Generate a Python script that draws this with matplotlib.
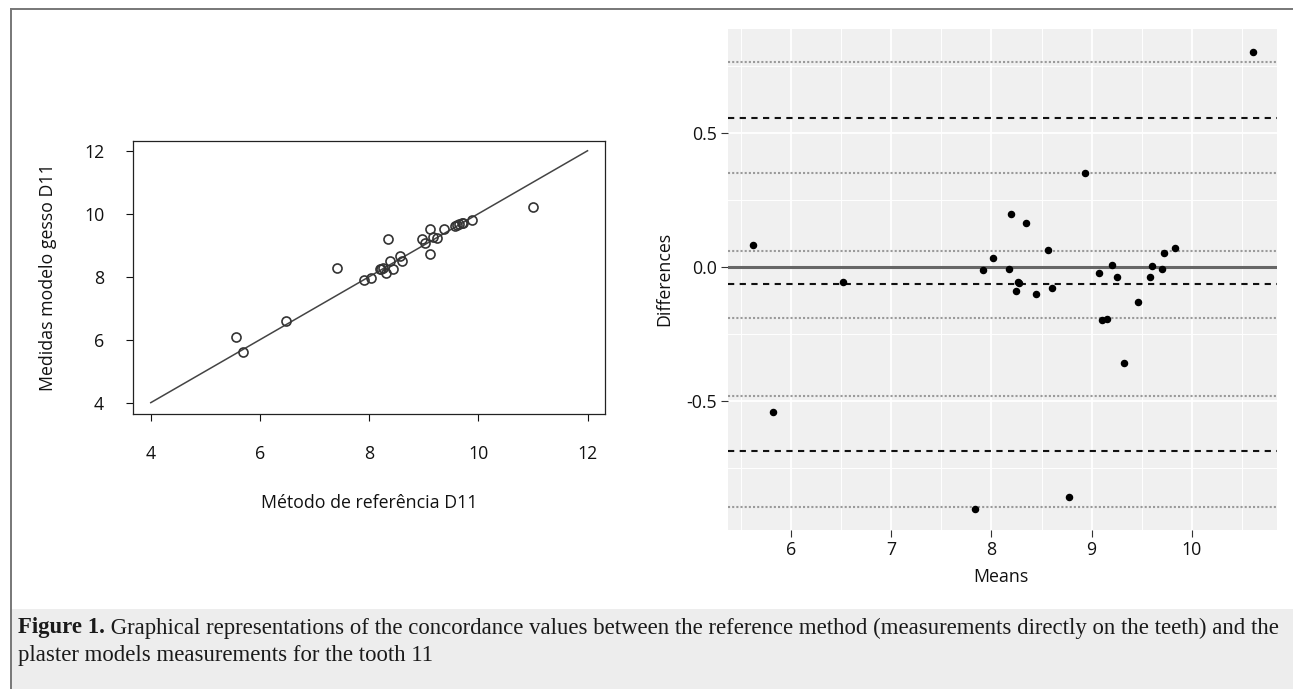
import matplotlib
import matplotlib.pyplot as plt
from matplotlib.lines import Line2D
from matplotlib.patches import Rectangle

# no GUI backend
matplotlib.use('Agg')

# left panel: reference method vs plaster model (tooth 11)
ref_d11 = [5.56, 5.69, 6.48, 7.41, 7.90, 8.04, 8.20, 8.22, 8.25, 8.30, 8.34, 8.38,
           8.43, 8.56, 8.61, 8.97, 9.03, 9.12, 9.12, 9.17, 9.25, 9.38, 9.57, 9.60,
           9.65, 9.70, 9.72, 9.88, 11.01]
gesso_d11 = [6.10, 5.60, 6.59, 8.29, 7.90, 7.97, 8.23, 8.26, 8.29, 8.11, 9.20, 8.51,
             8.23, 8.66, 8.51, 9.19, 9.08, 9.50, 8.72, 9.25, 9.22, 9.53, 9.62, 9.64,
             9.66, 9.71, 9.69, 9.80, 10.20]
identity_line = [4, 12]
left_ticks = [4, 6, 8, 10, 12]

# right panel: Bland-Altman means / differences
means = [5.618, 5.817, 6.516, 7.839, 7.913, 8.013, 8.179, 8.193, 8.245, 8.269,
         8.275, 8.342, 8.445, 8.568, 8.602, 8.771, 8.934, 9.077, 9.100, 9.150,
         9.207, 9.254, 9.326, 9.467, 9.583, 9.600, 9.706, 9.726, 9.836, 10.608]
diffs = [0.081, -0.543, -0.058, -0.904, -0.012, 0.031, -0.010, 0.197, -0.091, -0.058,
         -0.062, 0.162, -0.103, 0.062, -0.078, -0.860, 0.348, -0.025, -0.199, -0.193,
         0.006, -0.037, -0.359, -0.133, -0.037, 0.003, -0.010, 0.050, 0.069, 0.802]
loa_lines = [0.556, -0.066, -0.688]          # upper limit, mean diff, lower limit
ci_lines = [0.765, 0.348, 0.060, -0.190, -0.482, -0.898]
zero_line = 0.0
right_xticks = [6, 7, 8, 9, 10]
right_yticks = [-0.5, 0.0, 0.5]
right_yticklabels = ["-0.5", "0.0", "0.5"]

caption_bold = "Figure 1."
caption_line1 = (" Graphical representations of the concordance values between the reference "
                 "method (measurements directly on the teeth) and the")
caption_line2 = "plaster models measurements for the tooth 11"

plt.rcParams['font.family'] = ['Open Sans', 'DejaVu Sans']
W, H = 1293, 689
fig = plt.figure(figsize=(W / 100, H / 100), dpi=100)
fig.patch.set_facecolor('white')


def fx(px):
    return px / W


def fy(py):
    return 1 - py / H


# frame + caption box
fig.add_artist(Rectangle((fx(11), 0), 1 - fx(11), fy(609), transform=fig.transFigure,
                         facecolor='#ededed', edgecolor='none', zorder=0))
fig.add_artist(Line2D([fx(11), fx(11)], [0, fy(9)], transform=fig.transFigure,
                      color='#777777', lw=1.4))
fig.add_artist(Line2D([fx(11), 1], [fy(9), fy(9)], transform=fig.transFigure,
                      color='#777777', lw=1.4))

# ---- left: scatter ----
ax1 = fig.add_axes([fx(133.3), fy(414), fx(605) - fx(133.3), fy(141) - fy(414)])
ax1.plot(identity_line, identity_line, color='#444444', lw=1.1)
ax1.plot(ref_d11, gesso_d11, 'o', mfc='none', mec='#333333', mew=1.2, ms=6.5)
ax1.set_xlim(3.68, 12.32)
ax1.set_ylim(3.64, 12.31)
ax1.set_xticks(left_ticks)
ax1.set_yticks(left_ticks)
ax1.tick_params(direction='out', length=5, width=0.8, labelsize=12.8,
                colors='#111111')
ax1.tick_params(axis='x', pad=17)
ax1.tick_params(axis='y', pad=16)
for s in ax1.spines.values():
    s.set_linewidth(0.9)
    s.set_color('#222222')
fig.text(fx(369), fy(503), "Método de referência D11", ha='center', va='center',
         fontsize=12.8, color='#111111')
fig.text(fx(48), fy(277), "Medidas modelo gesso D11", ha='center', va='center',
         rotation=90, fontsize=12.8, color='#111111')

# ---- right: Bland-Altman ----
ax2 = fig.add_axes([fx(728.3), fy(530), fx(1276.7) - fx(728.3), fy(29) - fy(530)])
ax2.set_facecolor('#f0f0f0')
ax2.set_xlim(5.374, 10.847)
ax2.set_ylim(-0.982, 0.887)
ax2.set_xticks(right_xticks)
ax2.set_xticks([5.5, 6.5, 7.5, 8.5, 9.5, 10.5], minor=True)
ax2.set_yticks(right_yticks)
ax2.set_yticklabels(right_yticklabels)
ax2.set_yticks([-0.75, -0.25, 0.25, 0.75], minor=True)
ax2.grid(which='major', color='white', lw=1.3)
ax2.grid(which='minor', color='white', lw=0.7)
ax2.set_axisbelow(True)
for s in ax2.spines.values():
    s.set_visible(False)
ax2.tick_params(which='major', direction='out', length=5, width=0.8,
                color='#333333', labelcolor='#111111', labelsize=12.8, pad=3)
ax2.tick_params(which='minor', length=0)

for v in ci_lines:
    ax2.axhline(v, color='#9a9a9a', lw=1.5, ls=(0, (1.0, 1.0)), zorder=2)
ax2.axhline(zero_line, color='#666666', lw=2.2, zorder=2)
for v in loa_lines:
    ax2.axhline(v, color='#111111', lw=1.5, ls=(0, (3.0, 2.6)), zorder=3)
ax2.plot(means, diffs, 'o', color='black', ms=4.4, zorder=4)

fig.text(fx(1001), fy(577), "Means", ha='center', va='center', fontsize=12.8,
         color='#111111')
fig.text(fx(664), fy(279), "Differences", ha='center', va='center', rotation=90,
         fontsize=12.8, color='#111111')

# ---- caption ----
cap_font = ['Liberation Serif', 'DejaVu Serif']
cap_size = 16.4
t_bold = fig.text(fx(18), fy(628), caption_bold, ha='left', va='center',
                  fontsize=cap_size, fontweight='bold', family=cap_font, color='#1a1a1a')
renderer = fig.canvas.get_renderer()
bb = t_bold.get_window_extent(renderer=renderer)
fig.text(bb.x1 / W, fy(628), caption_line1, ha='left', va='center',
         fontsize=cap_size, family=cap_font, color='#1a1a1a')
fig.text(fx(18), fy(656), caption_line2, ha='left', va='center',
         fontsize=cap_size, family=cap_font, color='#1a1a1a')

fig.savefig('out.png', dpi=100)
